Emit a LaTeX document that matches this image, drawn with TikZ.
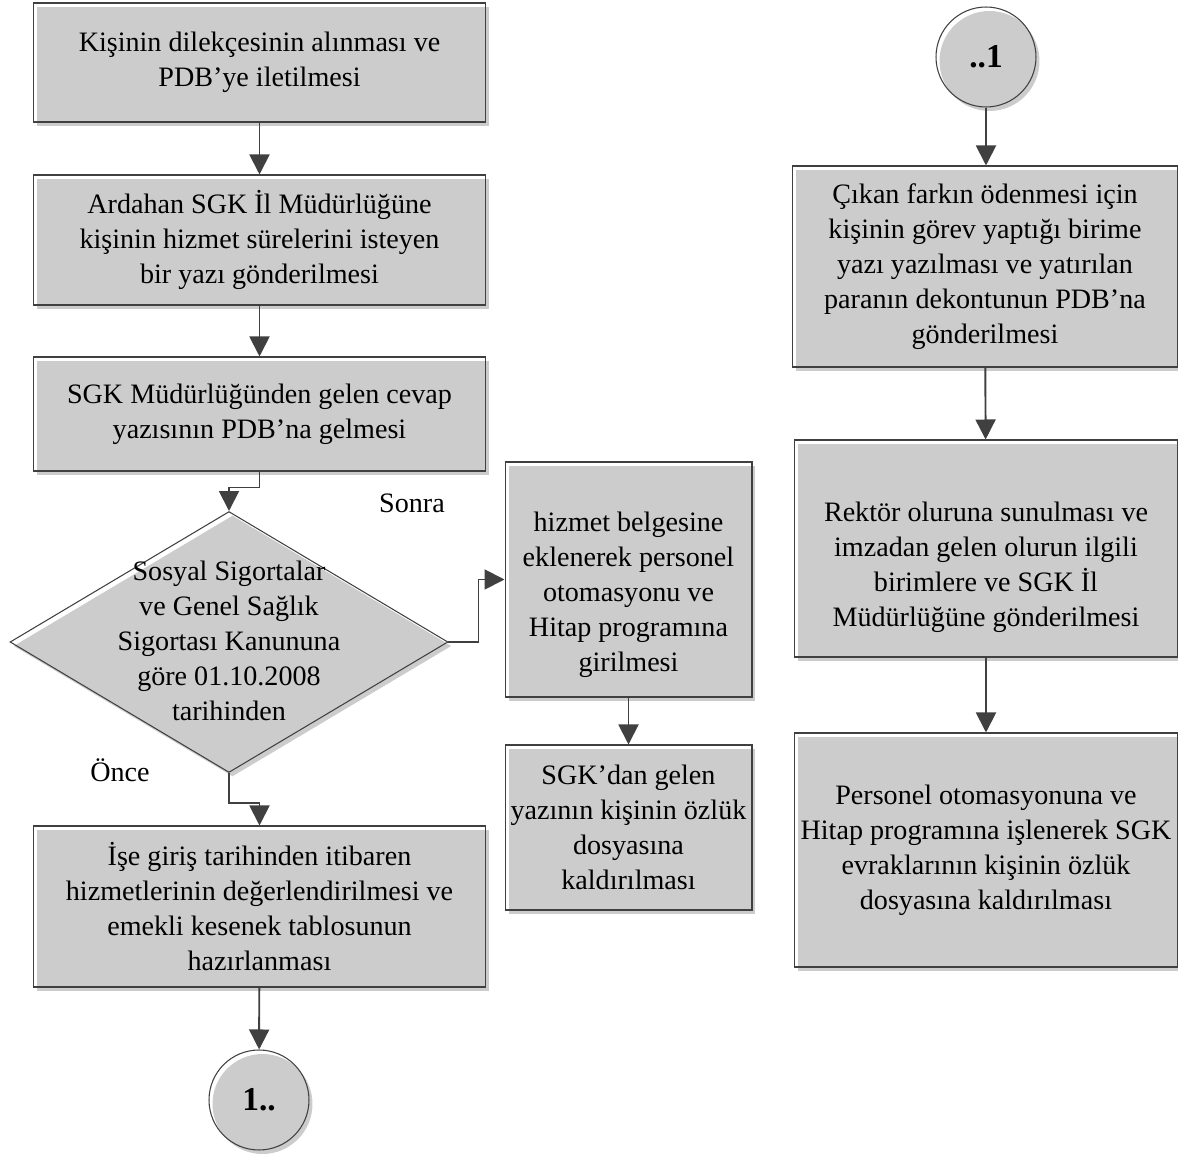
\documentclass[tikz,border=0pt]{standalone}
\usepackage{fontspec}
\setmainfont{Liberation Serif}
\usetikzlibrary{shapes.geometric,arrows.meta,shadows}
\definecolor{boxgray}{HTML}{CCCCCC}
\definecolor{linegray}{HTML}{404040}

\begin{document}
\begin{tikzpicture}[x=0.02cm, y=-0.02cm,
        every node/.style={font=\fontsize{16}{19.9}\selectfont, align=center},
        stepbox/.style={draw=linegray, line width=0.6pt, inner sep=0pt,
            drop shadow={shadow xshift=0.07cm, shadow yshift=-0.08cm, fill=boxgray, opacity=1}},
        decbox/.style={diamond, stepbox},
        linkcircle/.style={circle, stepbox, minimum size=2cm,
            font=\fontsize{19}{22}\selectfont\bfseries},
        flowarrow/.style={draw=linegray, line width=1.1pt,
            -{Triangle[length=0.4cm, width=0.4cm]}}]

        \useasboundingbox (0,0) rectangle (1178,1155);

        %% Left column
        \node[stepbox, minimum width=9.06cm, minimum height=2.38cm] (dilekce) at (259.5,62.5)
            {Kişinin dilekçesinin alınması ve\\ PDB’ye iletilmesi};
        \node[stepbox, minimum width=9.06cm, minimum height=2.6cm] (ardahan) at (259.5,240)
            {Ardahan SGK İl Müdürlüğüne\\ kişinin hizmet sürelerini isteyen\\ bir yazı gönderilmesi};
        \node[stepbox, minimum width=9.06cm, minimum height=2.28cm] (cevap) at (259.5,414)
            {SGK Müdürlüğünden gelen cevap\\ yazısının PDB’na gelmesi};
        \node[decbox, minimum width=8.76cm, minimum height=5.22cm] (kanun) at (229,642) {};
        \node (kanunyazi) at (229,640.5)
            {Sosyal Sigortalar\\ ve Genel Sağlık\\ Sigortası Kanununa\\ göre 01.10.2008\\ tarihinden};
        \node[stepbox, minimum width=9.06cm, minimum height=3.22cm] (isegiris) at (259.5,906.5)
            {İşe giriş tarihinden itibaren\\ hizmetlerinin değerlendirilmesi ve\\ emekli kesenek tablosunun\\ hazırlanması};
        \node[linkcircle] (birnokta) at (259,1100) {1..};

        %% Middle column
        \node[stepbox, minimum width=4.94cm, minimum height=4.7cm] (hizmet) at (628.5,579.5) {};
        \node (hizmetyazi) at (628.5,595)
            {hizmet belgesine\\ eklenerek personel\\ otomasyonu ve\\ Hitap programına\\ girilmesi};
        \node[stepbox, minimum width=4.94cm, minimum height=3.3cm] (ozluk) at (628.5,827.5)
            {SGK’dan gelen\\ yazının kişinin özlük\\ dosyasına\\ kaldırılması};

        %% Right column
        \node[linkcircle] (noktabir) at (986,57) {..1};
        \node[stepbox, minimum width=7.72cm, minimum height=4.02cm] (fark) at (985,266.5)
            {Çıkan farkın ödenmesi için\\ kişinin görev yaptığı birime\\ yazı yazılması ve yatırılan\\ paranın dekontunun PDB’na\\ gönderilmesi};
        \node[stepbox, minimum width=7.68cm, minimum height=4.34cm] (rektor) at (986,548.5) {};
        \node (rektoryazi) at (986,567)
            {Rektör oluruna sunulması ve\\ imzadan gelen olurun ilgili\\ birimlere ve SGK İl\\ Müdürlüğüne gönderilmesi};
        \node[stepbox, minimum width=7.68cm, minimum height=4.68cm] (personel) at (986,850)
            {Personel otomasyonuna ve\\ Hitap programına işlenerek SGK\\ evraklarının kişinin özlük\\ dosyasına kaldırılması};

        %% Branch labels
        \node (sonra) at (412,503) {Sonra};
        \node (once) at (120,770) {Önce};

        %% Connectors
        \draw[flowarrow] (dilekce) -- (ardahan);
        \draw[flowarrow] (ardahan) -- (cevap);
        \draw[flowarrow] (cevap.south) -- ++(0,16) -| (kanun.north);
        \draw[flowarrow] (kanun.east) -- ++(30,0) |- (hizmet.west);
        \draw[flowarrow] (kanun.south) -- ++(0,30) -| (isegiris.north);
        \draw[flowarrow] (isegiris) -- (birnokta);
        \draw[flowarrow] (hizmet) -- (ozluk);
        \draw[flowarrow] (noktabir) -- (noktabir |- fark.north);
        \draw[flowarrow] (fark) -- (rektor);
        \draw[flowarrow] (rektor) -- (personel);
    \end{tikzpicture}
\end{document}
